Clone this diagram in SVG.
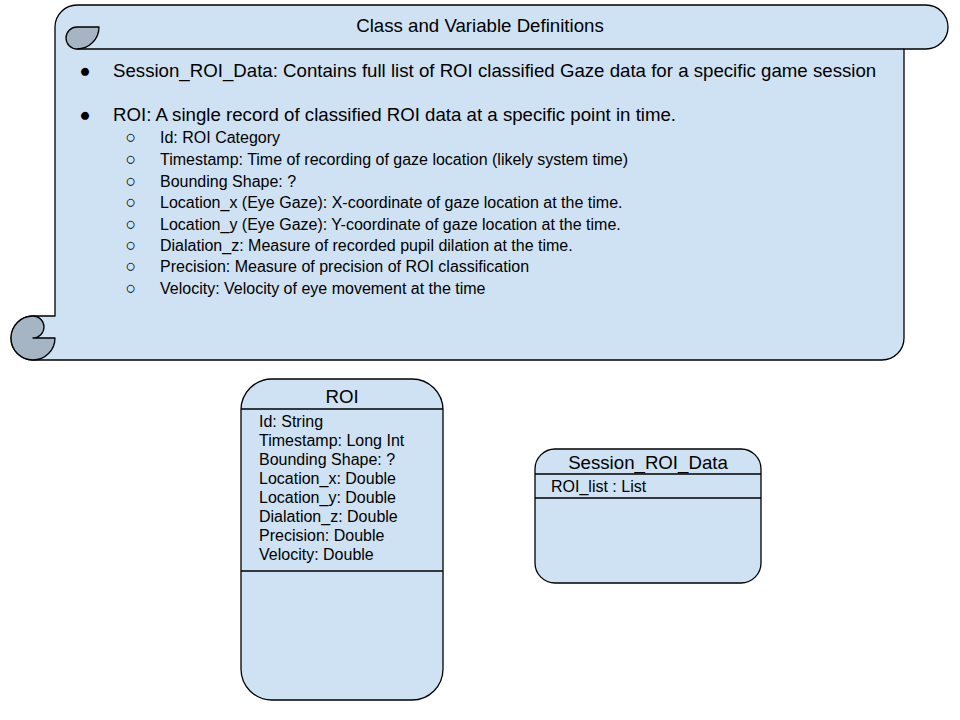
<svg xmlns="http://www.w3.org/2000/svg" width="960" height="720" viewBox="0 0 960 720">
<style>
.shape{fill:#cfe2f3;stroke:#000;stroke-width:1.3;stroke-linejoin:round}
.curl{fill:#a6b5c4;stroke:#000;stroke-width:1.3;stroke-linejoin:round}
.ln{stroke:#000;stroke-width:1.3;fill:none}
text{font-family:"Liberation Sans",Arial,sans-serif;fill:#000}
.h{font-size:18.67px}
.s{font-size:16px}
.m{text-anchor:middle}
.o{font-size:18px}
</style>
<rect width="960" height="720" fill="#fff"/>
<g id="scroll">
<path class="shape" d="M77,5 L926,5 A22,22 0 0 1 926,49 L904,49 L904,338 A22,22 0 0 1 882,360 L33,360 A22,22 0 0 1 33,316 L55,316 L55,27 A22,22 0 0 1 77,5 Z"/>
<path class="ln" d="M77,49 L904,49"/>
<path class="curl" d="M77,27 L99,27 A22,22 0 0 1 77,49 A11,11 0 0 1 77,27 Z"/>
<path class="curl" d="M33,316 A22,22 0 1 0 55,338 L33,338 A11,11 0 0 0 33,316 Z"/>
<text class="h m" x="480" y="32">Class and Variable Definitions</text>
<text class="h m" x="85" y="77">●</text>
<text class="h" x="113" y="77">Session_ROI_Data: Contains full list of ROI classified Gaze data for a specific game session</text>
<text class="h m" x="85" y="121">●</text>
<text class="h" x="113" y="121">ROI: A single record of classified ROI data at a specific point in time.</text>
<g class="s">
<text class="m o" x="131" y="143">○</text><text x="160" y="143">Id: ROI Category</text>
<text class="m o" x="131" y="165">○</text><text x="160" y="165">Timestamp: Time of recording of gaze location (likely system time)</text>
<text class="m o" x="131" y="187">○</text><text x="160" y="187">Bounding Shape: ?</text>
<text class="m o" x="131" y="208">○</text><text x="160" y="208">Location_x (Eye Gaze): X-coordinate of gaze location at the time.</text>
<text class="m o" x="131" y="230">○</text><text x="160" y="230">Location_y (Eye Gaze): Y-coordinate of gaze location at the time.</text>
<text class="m o" x="131" y="251">○</text><text x="160" y="251">Dialation_z: Measure of recorded pupil dilation at the time.</text>
<text class="m o" x="131" y="272">○</text><text x="160" y="272">Precision: Measure of precision of ROI classification</text>
<text class="m o" x="131" y="294">○</text><text x="160" y="294">Velocity: Velocity of eye movement at the time</text>
</g>
</g>
<g id="roi">
<rect class="shape" x="241" y="379" width="202" height="321" rx="31" ry="31"/>
<path class="ln" d="M241,409 L443,409 M241,571 L443,571"/>
<text class="h m" x="342" y="403">ROI</text>
<g class="s">
<text x="259" y="427">Id: String</text>
<text x="259" y="446">Timestamp: Long Int</text>
<text x="259" y="465">Bounding Shape: ?</text>
<text x="259" y="484">Location_x: Double</text>
<text x="259" y="503">Location_y: Double</text>
<text x="259" y="522">Dialation_z: Double</text>
<text x="259" y="541">Precision: Double</text>
<text x="259" y="560">Velocity: Double</text>
</g>
</g>
<g id="session">
<rect class="shape" x="535" y="449" width="226" height="134" rx="20" ry="20"/>
<path class="ln" d="M535,474 L761,474 M535,498 L761,498"/>
<text class="h m" x="648" y="469">Session_ROI_Data</text>
<text class="s" x="551" y="492">ROI_list : List</text>
</g>
</svg>
